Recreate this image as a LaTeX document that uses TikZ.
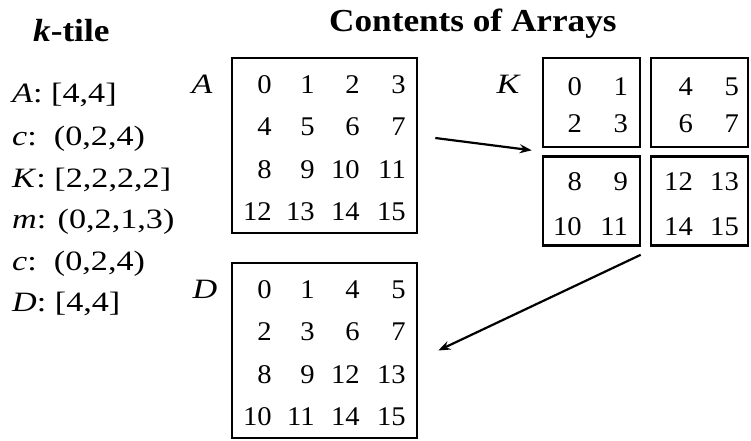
\documentclass[tikz,border=0pt]{standalone}
\usepackage{fontspec}
\setmainfont{Liberation Serif}
\newfontfamily\numfont{Liberation Serif}[FakeStretch=1.06]
\newfontfamily\lstfont{Liberation Serif}[FakeStretch=1.22]
\newfontfamily\ttlfont{Liberation Serif}[FakeStretch=1.1]
\usetikzlibrary{arrows.meta}
\begin{document}
\begin{tikzpicture}[x=1pt,y=-1pt,
  num/.style={inner sep=0pt,anchor=base east,font=\numfont\fontsize{27}{30}\selectfont},
  lst/.style={inner sep=0pt,anchor=base west,font=\lstfont\fontsize{28}{30}\selectfont},
  lbl/.style={inner sep=0pt,anchor=base,font=\lstfont\fontsize{28}{30}\selectfont\itshape},
  ttl/.style={inner sep=0pt,anchor=base west,font=\ttlfont\fontsize{32}{34}\selectfont\bfseries},
  bigbox/.style={draw,line width=2.6pt,inner sep=0pt,minimum width=185pt,minimum height=175pt},
  tilebox/.style={draw,line width=2.6pt,inner sep=0pt,minimum width=97pt,minimum height=89pt},
  conn/.style={line width=2.2pt,-{Stealth[length=12pt,width=9pt]}}]
\useasboundingbox (0,0) rectangle (751,440);
% titles
\node[ttl] (t1) at (33,41) {\textit{k}-tile};
\node[ttl] (t2) at (329,31) {Contents of Arrays};
% list
\node[lst] (l1) at (12,102) {\textit{A}: [4,4]};
\node[lst] (l2) at (12,145) {\textit{c}:\ \ (0,2,4)};
\node[lst] (l3) at (12,187) {\textit{K}: [2,2,2,2]};
\node[lst] (l4) at (12,228) {\textit{m}: (0,2,1,3)};
\node[lst] (l5) at (12,270) {\textit{c}:\ \ (0,2,4)};
\node[lst] (l6) at (12,311) {\textit{D}: [4,4]};
% boxes
\node[bigbox] (A) at (324.5,145.5) {};
\node[bigbox] (D) at (324.5,350.5) {};
\node[tilebox] (KTL) at (591.5,102.5) {};
\node[tilebox] (KTR) at (699.5,102.5) {};
\node[tilebox] (KBL) at (591.5,201) {};
\node[tilebox] (KBR) at (699.5,201) {};
% labels
\node[lbl] (la) at (202,93) {A};
\node[lbl] (lk) at (508,93) {K};
\node[lbl] (ld) at (205,298) {D};
% A contents
\foreach \yy/\va/\vb/\vc/\vd [count=\r] in {93/0/1/2/3,135/4/5/6/7,178/8/9/10/11,220/12/13/14/15}{
  \node[num] (A\r a) at (272,\yy) {\va};
  \node[num] (A\r b) at (315,\yy) {\vb};
  \node[num] (A\r c) at (360,\yy) {\vc};
  \node[num] (A\r d) at (406,\yy) {\vd};
}
% D contents
\foreach \yy/\va/\vb/\vc/\vd [count=\r] in {298/0/1/4/5,340/2/3/6/7,383/8/9/12/13,425/10/11/14/15}{
  \node[num] (D\r a) at (272,\yy) {\va};
  \node[num] (D\r b) at (315,\yy) {\vb};
  \node[num] (D\r c) at (360,\yy) {\vc};
  \node[num] (D\r d) at (406,\yy) {\vd};
}
% K contents
\foreach \yy/\va/\vb/\vc/\vd [count=\r] in {95/0/1/4/5,132/2/3/6/7,190/8/9/12/13,235/10/11/14/15}{
  \node[num] (K\r a) at (582,\yy) {\va};
  \node[num] (K\r b) at (628,\yy) {\vb};
  \node[num] (K\r c) at (693,\yy) {\vc};
  \node[num] (K\r d) at (739,\yy) {\vd};
}
% arrows
\draw[conn] ([xshift=17pt,yshift=7.5pt]A.east) -- ([xshift=-10pt,yshift=-2pt]KTL.south west);
\draw[conn] ([xshift=-9pt,yshift=-8pt]KBR.south west) -- ([xshift=20pt]D.east);
\end{tikzpicture}
\end{document}
